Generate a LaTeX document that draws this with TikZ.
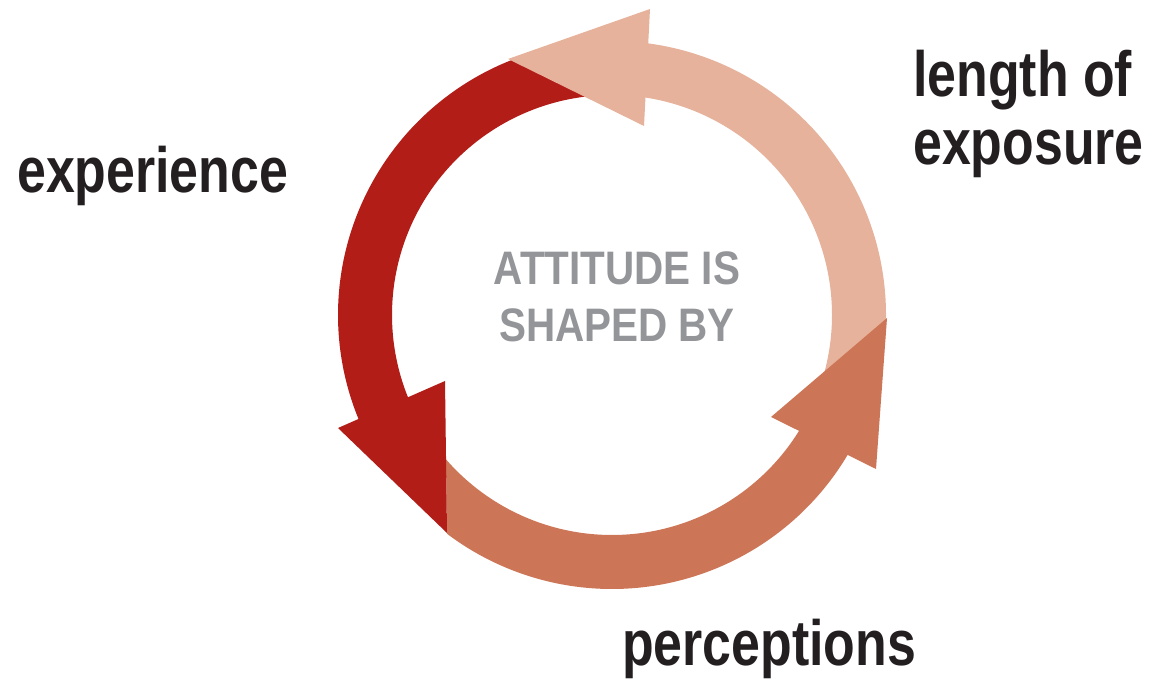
\documentclass[tikz,border=0pt]{standalone}
\usepackage{fontspec}
\newfontfamily\labelfont[FakeStretch=0.81]{Liberation Sans}
\newfontfamily\hubfont[FakeStretch=0.86]{Liberation Sans}
\definecolor{cred}{HTML}{B31D18}
\definecolor{cpink}{HTML}{E6B29B}
\definecolor{corange}{HTML}{CD7557}
\definecolor{cgray}{HTML}{939598}
\definecolor{ctext}{HTML}{231F20}
\tikzset{
  label text/.style={inner sep=0pt, anchor=base west, text=ctext,
    font=\labelfont\bfseries\fontsize{64}{64}\selectfont},
  hub text/.style={inner sep=0pt, anchor=base, text=cgray,
    font=\hubfont\bfseries\fontsize{47}{47}\selectfont}
}
\begin{document}
\begin{tikzpicture}[x=1pt,y=1pt]
\useasboundingbox (0,0) rectangle (1150,679);
\coordinate (C) at (612,364);
\def\ro{274}
\def\ri{220}

% ring segments (shafts); each tail is tucked under the next arrow head
\fill[cpink, shift={(C)}] (-20:\ro) arc[start angle=-20, end angle=86, radius=\ro]
  -- (86:\ri) arc[start angle=86, end angle=-20, radius=\ri] -- cycle;
\fill[cred, shift={(C)}] (92:\ro) arc[start angle=92, end angle=206, radius=\ro]
  -- (206:\ri) arc[start angle=206, end angle=92, radius=\ri] -- cycle;
\fill[corange, shift={(C)}] (233:\ro) arc[start angle=233, end angle=333, radius=\ro]
  -- (333:\ri) arc[start angle=333, end angle=221, radius=\ri] -- cycle;

% arrow heads
\coordinate (pinkTip) at (508,620);
\coordinate (pinkA) at (650,670);
\coordinate (pinkB) at (644,553);
\coordinate (redTip) at (447,146);
\coordinate (redA) at (338,251);
\coordinate (redB) at (445,298);
\coordinate (orTip) at (887,361);
\coordinate (orA) at (771,262);
\coordinate (orB) at (876,210);
\fill[cpink] (pinkTip) -- (pinkA) -- (pinkB) -- cycle;
\fill[cred] (redTip) -- (redA) -- (redB) -- cycle;
\fill[corange] (orTip) -- (orA) -- (orB) -- cycle;

% labels
\node[label text] (experience) at (17,486) {experience};
\node[label text] (length) at (913,582) {length of};
\node[label text] (exposure) at (913,514) {exposure};
\node[label text] (perceptions) at (622,13) {perceptions};
\node[hub text] (hubA) at (617,394) {ATTITUDE IS};
\node[hub text] (hubB) at (617,337) {SHAPED BY};
\end{tikzpicture}
\end{document}
